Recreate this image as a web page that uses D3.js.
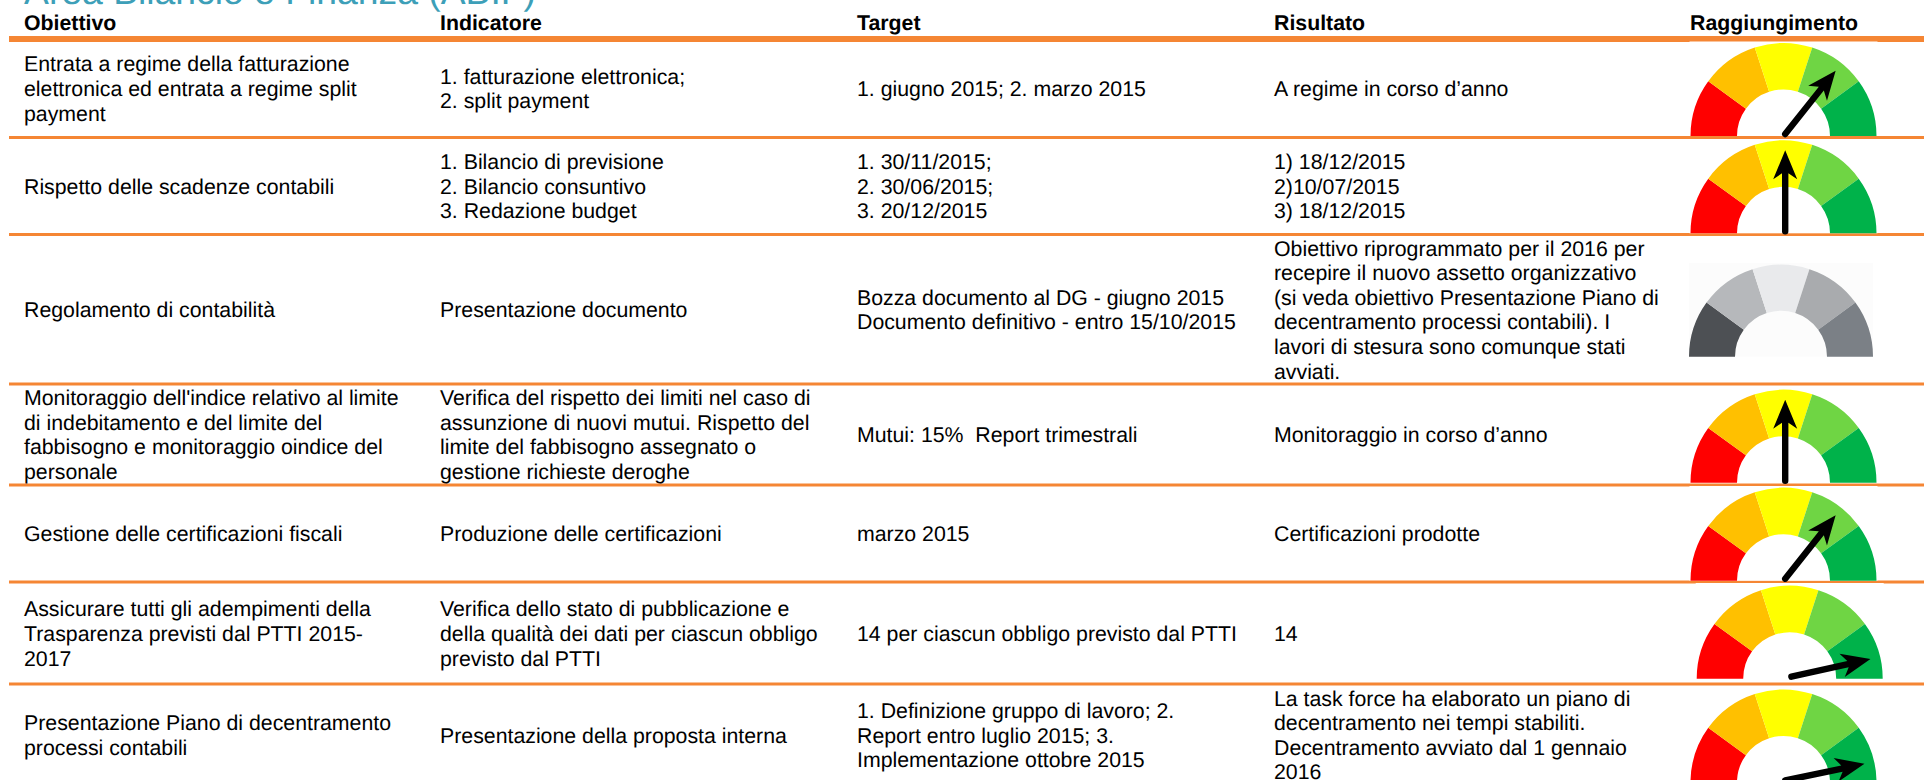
<!DOCTYPE html>
<html>
<head>
<meta charset="utf-8">
<script src="https://cdn.jsdelivr.net/npm/d3@7"></script>
<style>
html, body { margin: 0; padding: 0; background: #fff; overflow: hidden; }
text { font-family: "Liberation Sans", Arial, sans-serif; text-rendering: geometricPrecision; white-space: pre; }
</style>
</head>
<body>
<div id="chart"></div>
<script>
const titleText = "Area Bilancio e Finanza (ABIF)";
const headers = ["Obiettivo", "Indicatore", "Target", "Risultato", "Raggiungimento"];

const objectives = [
	["Entrata a regime della fatturazione", "elettronica ed entrata a regime split", "payment"],
	["Rispetto delle scadenze contabili"],
	["Regolamento di contabilità"],
	["Monitoraggio dell'indice relativo al limite", "di indebitamento e del limite del", "fabbisogno e monitoraggio oindice del", "personale"],
	["Gestione delle certificazioni fiscali"],
	["Assicurare tutti gli adempimenti della", "Trasparenza previsti dal PTTI 2015-", "2017"],
	["Presentazione Piano di decentramento", "processi contabili"]
];
const indicators = [
	["1. fatturazione elettronica;", "2. split payment"],
	["1. Bilancio di previsione", "2. Bilancio consuntivo", "3. Redazione budget"],
	["Presentazione documento"],
	["Verifica del rispetto dei limiti nel caso di", "assunzione di nuovi mutui. Rispetto del", "limite del fabbisogno assegnato o", "gestione richieste deroghe"],
	["Produzione delle certificazioni"],
	["Verifica dello stato di pubblicazione e", "della qualità dei dati per ciascun obbligo", "previsto dal PTTI"],
	["Presentazione della proposta interna"]
];
const targets = [
	["1. giugno 2015; 2. marzo 2015"],
	["1. 30/11/2015;", "2. 30/06/2015;", "3. 20/12/2015"],
	["Bozza documento al DG - giugno 2015", "Documento definitivo - entro 15/10/2015"],
	["Mutui: 15%  Report trimestrali"],
	["marzo 2015"],
	["14 per ciascun obbligo previsto dal PTTI"],
	["1. Definizione gruppo di lavoro; 2.", "Report entro luglio 2015; 3.", "Implementazione ottobre 2015"]
];
const results = [
	["A regime in corso d’anno"],
	["1) 18/12/2015", "2)10/07/2015", "3) 18/12/2015"],
	["Obiettivo riprogrammato per il 2016 per", "recepire il nuovo assetto organizzativo", "(si veda obiettivo Presentazione Piano di", "decentramento processi contabili). I", "lavori di stesura sono comunque stati", "avviati."],
	["Monitoraggio in corso d’anno"],
	["Certificazioni prodotte"],
	["14"],
	["La task force ha elaborato un piano di", "decentramento nei tempi stabiliti.", "Decentramento avviato dal 1 gennaio", "2016"]
];

// gauge reading, 0 = far left, 5 = far right, null = no needle
const levels = [3.57, 2.5, null, 2.5, 3.57, 4.65, 4.67];
const gaugeColors = ["#ff0000", "#ffc000", "#ffff00", "#6fd544", "#00b24a"];
const greyColors = ["#4d5054", "#b6b8bb", "#e9eaec", "#a9abae", "#7b8086"];

// layout
const width = 1924, height = 780;
const colX = [24, 440, 857, 1274, 1690];
const ruleY = [39, 137.5, 234.5, 384, 485, 582, 684];
const rowMid = [88.5, 186, 309.5, 434.5, 533.5, 633.5, 735];
const gaugeX = [1783.5, 1783.5, 1781, 1783.5, 1783.5, 1789.7, 1783.5];
const gaugeBase = [136, 233.3, 356.7, 482.7, 580.7, 678.7, 782.5];
const boxTop = [41.5, 140, 263, 389, 486, 583, 689];
const lineH = 24.6;
const needleLen = 81;

let svg = d3.select("#chart").append("svg")
	.attr("width", width)
	.attr("height", height)
	.style("display", "block");

svg.append("text")
	.attr("x", 24)
	.attr("y", 4)
	.attr("fill", "#3d9fb8")
	.attr("font-size", 37.3)
	.text(titleText);

svg.selectAll("line.rule")
	.data(ruleY)
	.enter().append("line")
	.attr("class", "rule")
	.attr("x1", 9)
	.attr("x2", width)
	.attr("y1", d => d)
	.attr("y2", d => d)
	.attr("stroke", "#f58634")
	.attr("stroke-width", (d, i) => i == 0 ? 6 : 3);

svg.selectAll("text.head")
	.data(headers)
	.enter().append("text")
	.attr("class", "head")
	.attr("x", (d, i) => colX[i])
	.attr("y", 30)
	.attr("font-size", 21.3)
	.attr("font-weight", "bold")
	.attr("fill", "#000")
	.text(d => d);

// table body, one column at a time
[objectives, indicators, targets, results].forEach((col, c) => {
	col.forEach((lines, r) => {
		svg.append("text")
			.attr("font-size", 21.3)
			.attr("fill", "#000")
			.selectAll("tspan")
			.data(lines)
			.enter().append("tspan")
			.attr("x", colX[c])
			.attr("y", (d, i) => rowMid[r] + (i - (lines.length - 1) / 2) * lineH + 7.5)
			.text(d => d);
	});
});

const angle = d3.scaleLinear().domain([0, 5]).range([-Math.PI / 2, Math.PI / 2]);

// arrow pointing straight up from the origin
function needlePath() {
	let p = d3.path();
	p.moveTo(0, -needleLen);
	p.lineTo(12, -needleLen + 29);
	p.lineTo(3.2, -needleLen + 23);
	p.lineTo(3.2, 0);
	p.arc(0, 0, 3.2, 0, Math.PI);
	p.lineTo(-3.2, -needleLen + 23);
	p.lineTo(-12, -needleLen + 29);
	p.closePath();
	return p.toString();
}

levels.forEach((level, r) => {
	let x = gaugeX[r], y = gaugeBase[r];
	let grey = level == null;
	let colors = grey ? greyColors : gaugeColors;
	let outerR = grey ? 92 : 93;
	let arc = d3.arc().innerRadius(outerR / 2).outerRadius(outerR);

	// the gauge picture sits on its own background box
	svg.append("rect")
		.attr("x", grey ? x - outerR : x - outerR - 1)
		.attr("y", boxTop[r])
		.attr("width", grey ? outerR * 2 : outerR * 2 + 2)
		.attr("height", y - boxTop[r])
		.attr("fill", grey ? "#fcfcfc" : "#fff");

	let g = svg.append("g").attr("transform", `translate(${x},${y})`);
	g.selectAll("path.seg")
		.data(colors)
		.enter().append("path")
		.attr("class", "seg")
		.attr("fill", d => d)
		.attr("d", (d, i) => arc({startAngle: angle(i), endAngle: angle(i + 1)}));

	if(!grey)
	{
		g.append("path")
			.attr("transform", `translate(1.7,-2) rotate(${angle(level) * 180 / Math.PI})`)
			.attr("fill", "#000")
			.attr("d", needlePath());
	}
});
</script>
</body>
</html>
